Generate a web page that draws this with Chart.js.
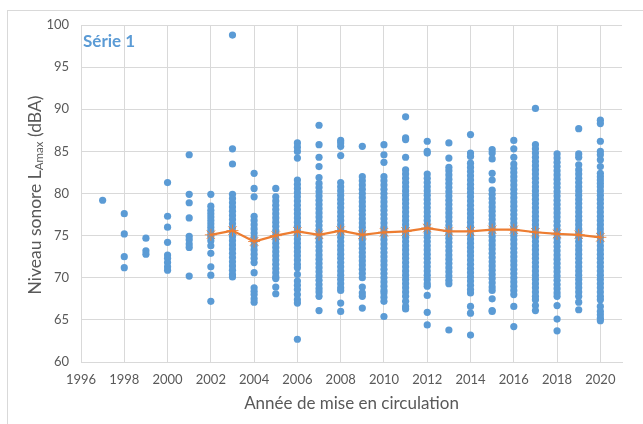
<!DOCTYPE html>
<html lang="fr">
<head>
<meta charset="utf-8">
<title>Niveau sonore LAmax par année de mise en circulation</title>
<script src="https://cdn.jsdelivr.net/npm/chart.js@4.4.1/dist/chart.umd.min.js"></script>
<style>
  html, body { margin: 0; padding: 0; background: #fff; overflow: hidden; }
  canvas { display: block; }
</style>
</head>
<body>
<canvas id="chart" width="643" height="424"></canvas>
<script>
// niveaux mesurés (dBA), un tableau par année de mise en circulation
const l1997 = [79.2];
const l1998 = [77.6, 75.2, 72.5, 71.2];
const l1999 = [74.7, 73.2, 72.8];
const l2000 = [81.3, 77.3, 76.0, 74.2, 72.7, 72.3, 71.8, 71.3, 70.9];
const l2001 = [84.6, 79.9, 78.9, 77.1, 74.9, 74.5, 74.0, 73.6, 70.2];
const l2002 = [79.9, 78.5, 78.0, 77.6, 77.2, 76.8, 76.4, 76.0, 75.6, 75.2, 74.9, 74.4, 73.8, 72.9, 71.3, 70.3, 67.2];
const l2003 = [98.8, 85.3, 83.5, 79.9, 79.4, 78.9, 78.4, 77.9, 77.4, 76.9, 76.4, 75.9, 75.4, 74.9, 74.4, 73.9, 73.4, 72.9, 72.4, 71.9, 71.4, 70.9, 70.4, 70.1];
const l2004 = [82.4, 80.6, 79.6, 77.3, 76.8, 76.3, 75.8, 75.3, 74.8, 74.3, 73.8, 73.3, 72.8, 72.3, 71.8, 70.6, 68.8, 68.4, 68.0, 67.5, 67.1];
const l2005 = [80.6, 79.6, 79.1, 78.6, 78.1, 77.6, 77.1, 76.6, 76.1, 75.6, 75.1, 74.6, 74.1, 73.6, 73.1, 72.6, 72.1, 71.6, 71.1, 70.6, 70.1, 69.9, 68.9, 68.1];
const l2006 = [86.0, 85.5, 85.0, 84.2, 81.6, 81.1, 80.6, 80.1, 79.6, 79.1, 78.6, 78.1, 77.6, 77.1, 76.6, 76.1, 75.6, 75.1, 74.6, 74.1, 73.6, 73.1, 72.6, 72.1, 71.6, 71.2, 70.4, 69.6, 69.1, 68.6, 68.0, 67.4, 67.0, 62.7];
const l2007 = [88.1, 85.8, 84.3, 83.2, 81.9, 81.2, 80.7, 80.2, 79.7, 79.2, 78.7, 78.2, 77.7, 77.2, 76.7, 76.2, 75.7, 75.2, 74.7, 74.2, 73.7, 73.2, 72.7, 72.2, 71.7, 71.2, 70.7, 70.2, 69.7, 69.2, 68.7, 68.3, 67.8, 66.1];
const l2008 = [86.3, 86.0, 85.6, 84.5, 81.3, 80.8, 80.3, 79.8, 79.3, 78.8, 78.3, 77.8, 77.3, 76.8, 76.3, 75.8, 75.3, 74.8, 74.3, 73.8, 73.3, 72.8, 72.3, 71.8, 71.3, 70.8, 70.3, 69.8, 69.3, 68.8, 68.5, 67.0, 66.0];
const l2009 = [85.6, 82.0, 81.5, 81.0, 80.5, 80.0, 79.5, 79.0, 78.5, 78.0, 77.5, 77.0, 76.5, 76.0, 75.5, 75.0, 74.5, 74.0, 73.5, 73.0, 72.5, 72.0, 71.5, 71.0, 70.5, 70.0, 68.9, 68.2, 67.8, 66.4];
const l2010 = [85.8, 84.6, 83.7, 82.0, 81.5, 81.0, 80.5, 80.0, 79.5, 79.0, 78.5, 78.0, 77.5, 77.0, 76.5, 76.0, 75.5, 75.0, 74.5, 74.0, 73.5, 73.0, 72.5, 72.0, 71.5, 71.0, 70.5, 70.0, 69.5, 69.0, 68.5, 68.2, 67.7, 67.2, 65.4];
const l2011 = [89.1, 86.6, 86.4, 84.3, 82.8, 82.3, 81.8, 81.3, 80.8, 80.3, 79.8, 79.3, 78.8, 78.3, 77.8, 77.3, 76.8, 76.3, 75.8, 75.3, 74.8, 74.3, 73.8, 73.3, 72.8, 72.3, 71.8, 71.3, 70.8, 70.3, 69.8, 69.3, 68.8, 68.3, 67.8, 67.2, 66.6, 66.3];
const l2012 = [86.2, 85.0, 84.8, 82.3, 81.8, 81.3, 80.8, 80.3, 79.8, 79.3, 78.8, 78.3, 77.8, 77.3, 76.8, 76.3, 75.8, 75.3, 74.8, 74.3, 73.8, 73.3, 72.8, 72.3, 71.8, 71.3, 70.8, 70.3, 69.8, 69.3, 69.0, 67.9, 65.9, 64.4];
const l2013 = [86.0, 84.2, 83.1, 82.7, 82.2, 81.7, 81.2, 80.7, 80.2, 79.7, 79.2, 78.7, 78.2, 77.7, 77.2, 76.7, 76.2, 75.7, 75.2, 74.7, 74.2, 73.7, 73.2, 72.7, 72.2, 71.7, 71.2, 70.7, 70.2, 69.7, 69.3, 63.8];
const l2014 = [87.0, 84.8, 84.4, 83.6, 83.1, 82.6, 82.1, 81.6, 81.1, 80.6, 80.1, 79.6, 79.1, 78.6, 78.1, 77.6, 77.1, 76.6, 76.1, 75.6, 75.1, 74.6, 74.1, 73.6, 73.1, 72.6, 72.1, 71.6, 71.1, 70.6, 70.1, 69.6, 69.1, 68.6, 68.2, 66.6, 65.8, 63.2];
const l2015 = [85.2, 84.8, 84.1, 82.4, 81.6, 80.4, 79.9, 79.4, 78.9, 78.4, 77.9, 77.4, 76.9, 76.4, 75.9, 75.4, 74.9, 74.4, 73.9, 73.4, 72.9, 72.4, 71.9, 71.4, 70.9, 70.4, 69.9, 69.4, 68.9, 68.5, 67.5, 66.1, 66.0];
const l2016 = [86.3, 85.3, 84.3, 83.5, 83.0, 82.5, 82.0, 81.5, 81.0, 80.5, 80.0, 79.5, 79.0, 78.5, 78.0, 77.5, 77.0, 76.5, 76.0, 75.5, 75.0, 74.5, 74.0, 73.5, 73.0, 72.5, 72.0, 71.5, 71.0, 70.5, 70.0, 69.5, 69.0, 68.5, 68.0, 66.6, 64.2];
const l2017 = [90.1, 85.8, 85.3, 84.8, 84.3, 83.8, 83.3, 82.8, 82.3, 81.8, 81.3, 80.8, 80.3, 79.8, 79.3, 78.8, 78.3, 77.8, 77.3, 76.8, 76.3, 75.8, 75.3, 74.8, 74.3, 73.8, 73.3, 72.8, 72.3, 71.8, 71.3, 70.8, 70.3, 69.8, 69.3, 68.8, 68.3, 67.8, 67.4, 66.7, 66.1];
const l2018 = [84.7, 84.2, 83.7, 83.2, 82.7, 82.2, 81.7, 81.2, 80.7, 80.2, 79.7, 79.2, 78.7, 78.2, 77.7, 77.2, 76.7, 76.2, 75.7, 75.2, 74.7, 74.2, 73.7, 73.2, 72.7, 72.2, 71.7, 71.2, 70.7, 70.2, 69.7, 69.2, 68.7, 68.2, 67.8, 66.7, 65.1, 63.7];
const l2019 = [87.7, 84.7, 84.3, 83.4, 82.8, 82.3, 81.8, 81.3, 80.8, 80.3, 79.8, 79.3, 78.8, 78.3, 77.8, 77.3, 76.8, 76.3, 75.8, 75.3, 74.8, 74.3, 73.8, 73.3, 72.8, 72.3, 71.8, 71.3, 70.8, 70.3, 69.8, 69.3, 68.8, 68.3, 67.8, 67.1, 66.2];
const l2020 = [88.7, 88.3, 86.2, 85.0, 84.6, 84.0, 83.2, 82.4, 82.0, 81.6, 81.2, 80.8, 80.3, 79.8, 79.3, 78.8, 78.3, 77.8, 77.3, 76.8, 76.3, 75.8, 75.3, 74.8, 74.3, 73.8, 73.3, 72.8, 72.3, 71.8, 71.3, 70.8, 70.3, 69.8, 69.3, 68.8, 68.3, 67.8, 67.4, 66.6, 66.0, 65.6, 65.2, 64.9];

const pointYears = [1997, 1998, 1999, 2000, 2001, 2002, 2003, 2004, 2005, 2006, 2007, 2008,
  2009, 2010, 2011, 2012, 2013, 2014, 2015, 2016, 2017, 2018, 2019, 2020];
const pointLevels = [l1997, l1998, l1999, l2000, l2001, l2002, l2003, l2004, l2005, l2006, l2007, l2008,
  l2009, l2010, l2011, l2012, l2013, l2014, l2015, l2016, l2017, l2018, l2019, l2020];

// moyenne par année (courbe orange)
const meanYears = [2002, 2003, 2004, 2005, 2006, 2007, 2008, 2009, 2010, 2011, 2012,
  2013, 2014, 2015, 2016, 2017, 2018, 2019, 2020];
const meanLevels = [75.1, 75.6, 74.3, 75.0, 75.5, 75.1, 75.6, 75.1, 75.4, 75.5, 75.9,
  75.5, 75.5, 75.7, 75.7, 75.4, 75.2, 75.1, 74.8];

const xTickLabels = [1996, 1998, 2000, 2002, 2004, 2006, 2008, 2010, 2012, 2014, 2016, 2018, 2020];
const yTickLabels = [60, 65, 70, 75, 80, 85, 90, 95, 100];

const FONT = 'Lato, "Open Sans", sans-serif';
const TEXT = '#595959';
const GRID = '#d9d9d9';
const BLUE = '#5B9BD5';
const ORANGE = '#ED7D31';

const scatterData = pointYears.flatMap((yr, i) => pointLevels[i].map(v => ({ x: yr, y: v })));
const meanData = meanYears.map((yr, i) => ({ x: yr, y: meanLevels[i] }));

const frame = {
  id: 'frame',
  beforeDraw(chart) {
    const ctx = chart.ctx;
    ctx.save();
    ctx.fillStyle = '#fff';
    ctx.fillRect(0, 0, chart.width, chart.height);
    ctx.strokeStyle = GRID;
    ctx.lineWidth = 1;
    ctx.strokeRect(7.5, 10.5, chart.width + 20, chart.height + 20);
    ctx.restore();
  },
  afterDraw(chart) {
    const ctx = chart.ctx;
    const area = chart.chartArea;
    ctx.save();
    // nom de la série dans le coin du graphique
    ctx.font = 'bold 17px ' + FONT;
    ctx.fillStyle = BLUE;
    ctx.textAlign = 'left';
    ctx.textBaseline = 'middle';
    ctx.fillText('Série 1', area.left + 2, 42);

    // titre vertical avec indice
    const main = '17.5px ' + FONT;
    const sub = '11.5px ' + FONT;
    const parts = [['Niveau sonore L', main, 0], ['Amax', sub, 4.5], [' (dBA)', main, 0]];
    let total = 0;
    parts.forEach(p => { ctx.font = p[1]; total += ctx.measureText(p[0]).width; });
    ctx.translate(35, 195);
    ctx.rotate(-Math.PI / 2);
    ctx.fillStyle = TEXT;
    let x = -total / 2;
    parts.forEach(p => {
      ctx.font = p[1];
      ctx.fillText(p[0], x, p[2]);
      x += ctx.measureText(p[0]).width;
    });
    ctx.restore();
  }
};

new Chart(document.getElementById('chart'), {
  type: 'scatter',
  data: {
    datasets: [
      {
        type: 'line',
        label: 'Moyenne',
        data: meanData,
        order: 0,
        borderColor: ORANGE,
        borderWidth: 2.25,
        fill: false,
        tension: 0,
        pointStyle: 'star',
        pointRadius: 6,
        pointBorderColor: 'rgba(237, 125, 49, 0.85)',
        pointBorderWidth: 1,
        pointBackgroundColor: ORANGE
      },
      {
        label: 'Série 1',
        data: scatterData,
        order: 1,
        pointRadius: 3.6,
        pointBorderWidth: 0,
        pointBackgroundColor: BLUE,
        pointBorderColor: BLUE
      }
    ]
  },
  options: {
    responsive: false,
    animation: false,
    layout: {
      padding: { top: 25, right: 21, left: 0, bottom: 0 }
    },
    plugins: {
      legend: { display: false },
      tooltip: { enabled: false }
    },
    scales: {
      x: {
        type: 'linear',
        min: 1996,
        max: 2021,
        afterBuildTicks(scale) {
          scale.ticks = xTickLabels.map(v => ({ value: v }));
        },
        afterFit(scale) {
          scale.height = 62;
        },
        grid: { color: GRID, drawTicks: false },
        border: { color: GRID },
        ticks: {
          padding: 10,
          color: TEXT,
          font: { family: FONT, size: 13 },
          callback: v => String(v)
        },
        title: {
          display: true,
          text: 'Année de mise en circulation',
          color: TEXT,
          font: { family: FONT, size: 17 },
          padding: { top: 0, bottom: 10 }
        }
      },
      y: {
        min: 60,
        max: 100,
        afterBuildTicks(scale) {
          scale.ticks = yTickLabels.map(v => ({ value: v }));
        },
        afterFit(scale) {
          scale.width = 81;
        },
        grid: { color: GRID, drawTicks: false },
        border: { color: GRID },
        ticks: {
          padding: 12,
          color: TEXT,
          font: { family: FONT, size: 13 },
          callback: v => String(v)
        }
      }
    }
  },
  plugins: [frame]
});
</script>
</body>
</html>
